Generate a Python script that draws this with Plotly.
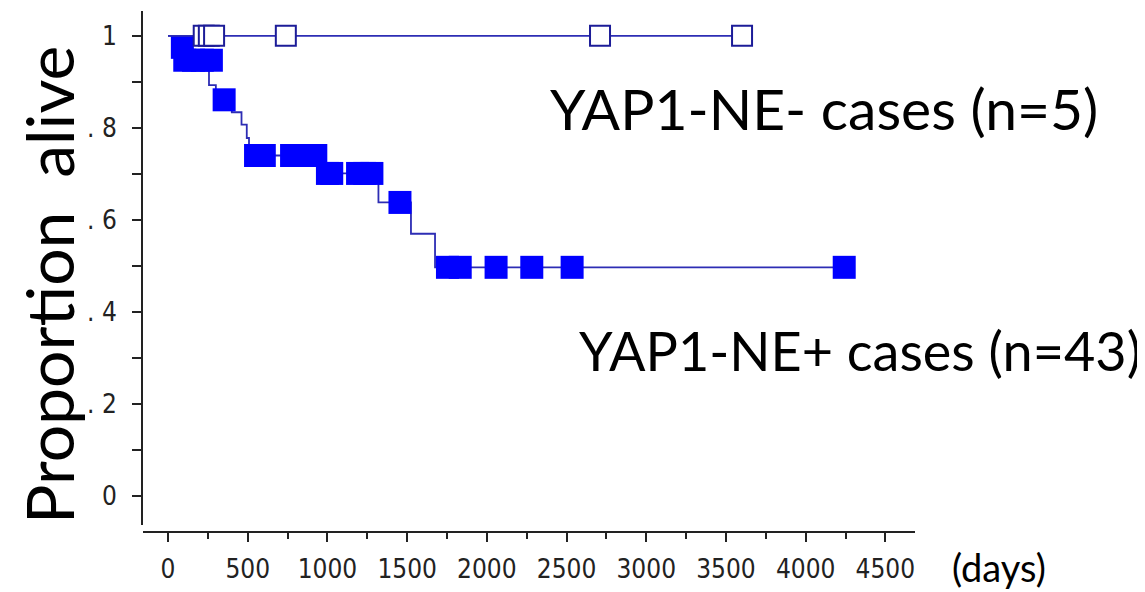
import plotly.graph_objects as go

# ---- data ----
pos_step_days = [0, 40, 100, 257, 300, 400, 461, 494, 508, 960, 1320, 1524, 1675, 4242]
pos_step_surv = [1.0, 0.975, 0.947, 0.893, 0.861, 0.834, 0.807, 0.778, 0.740, 0.701, 0.638, 0.570, 0.497, 0.497]

pos_cens_days = [90, 105, 160, 215, 272, 352, 549, 604, 775, 851, 927, 1000, 1027,
                 1189, 1234, 1279, 1455, 1753, 1833, 2058, 2282, 2535, 4242]
pos_cens_surv = [0.975, 0.947, 0.947, 0.947, 0.947, 0.861, 0.740, 0.740, 0.740, 0.740, 0.740, 0.701, 0.701,
                 0.701, 0.701, 0.701, 0.638, 0.497, 0.497, 0.497, 0.497, 0.497, 0.497]

neg_step_days = [0, 3601]
neg_step_surv = [1.0, 1.0]
neg_cens_days = [224, 256, 289, 739, 2710, 3601]
neg_cens_surv = [1.0, 1.0, 1.0, 1.0, 1.0, 1.0]

x_tickvals = [0, 500, 1000, 1500, 2000, 2500, 3000, 3500, 4000, 4500]
x_ticktext = ["0", "500", "1000", "1500", "2000", "2500", "3000", "3500", "4000", "4500"]
y_tickvals = [0, 0.2, 0.4, 0.6, 0.8, 1.0]
y_ticktext = ["0", ". 2", ". 4", ". 6", ". 8", "1"]

label_neg = "YAP1-NE- cases (n=5)"
label_pos = "YAP1-NE+ cases (n=43)"
y_title = "Proportion  alive"
x_title = "(days)"

LINE_COL = "#2d2db4"
FILL_COL = "#0000ff"
OPEN_COL = "#1c1c98"
TICK_FONT = dict(family="Liberation Sans Narrow, DejaVu Sans Condensed, sans-serif", size=26, color="#222222")
TEXT_FONT = "Lato, Calibri, sans-serif"

# page body has an 8px offset; plot area aimed at screen px x 143..915, y 11..532
OFF = 8
L, R, T, B = 143, 915, 11, 532
PW, PH = R - L, B - T

fig = go.Figure()
fig.add_trace(go.Scatter(x=pos_step_days, y=pos_step_surv, mode="lines",
                         line=dict(color=LINE_COL, width=1.8, shape="hv"),
                         hoverinfo="skip", showlegend=False))
fig.add_trace(go.Scatter(x=pos_cens_days, y=pos_cens_surv, mode="markers",
                         marker=dict(symbol="square", size=23, color=FILL_COL, line=dict(width=0)),
                         showlegend=False))
fig.add_trace(go.Scatter(x=neg_step_days, y=neg_step_surv, mode="lines",
                         line=dict(color=LINE_COL, width=1.8, shape="hv"),
                         hoverinfo="skip", showlegend=False))
fig.add_trace(go.Scatter(x=neg_cens_days, y=neg_cens_surv, mode="markers",
                         marker=dict(symbol="square", size=20, color="white",
                                     line=dict(width=2, color=OPEN_COL)),
                         showlegend=False))

def px(xp):
    return (xp - L) / PW

def py(yp):
    return (B - yp) / PH

fig.update_layout(
    width=1145, height=592,
    margin=dict(l=L - OFF, r=1145 - R + OFF, t=T - OFF, b=592 - B + OFF, autoexpand=False),
    paper_bgcolor="white", plot_bgcolor="white",
    xaxis=dict(range=[-157, 4686], domain=[0, 1], anchor="free", position=0, automargin=False,
               showgrid=False, zeroline=False, showline=True, linecolor="#222222", linewidth=2,
               tickmode="array", tickvals=x_tickvals, ticktext=x_ticktext,
               ticks="outside", ticklen=9, tickwidth=2, tickcolor="#222222",
               minor=dict(ticks="outside", dtick=250, ticklen=6, tickwidth=2, tickcolor="#222222"),
               tickfont=TICK_FONT, ticklabelstandoff=5),
    yaxis=dict(range=[-0.063, 1.054], domain=[0.0134, 1], automargin=False,
               showgrid=False, zeroline=False, showline=True, linecolor="#222222", linewidth=2,
               tickmode="array", tickvals=y_tickvals, ticktext=y_ticktext,
               ticks="outside", ticklen=9, tickwidth=2, tickcolor="#222222",
               minor=dict(ticks="outside", dtick=0.1, ticklen=9, tickwidth=2, tickcolor="#222222"),
               tickfont=TICK_FONT, ticklabelstandoff=10),
    annotations=[
        dict(text=label_neg, xref="paper", yref="paper", x=px(548), y=py(108),
             xanchor="left", yanchor="middle", showarrow=False,
             font=dict(family=TEXT_FONT, size=57, color="black")),
        dict(text=label_pos, xref="paper", yref="paper", x=px(577), y=py(350),
             xanchor="left", yanchor="middle", showarrow=False,
             font=dict(family=TEXT_FONT, size=54, color="black")),
        dict(text=x_title, xref="paper", yref="paper", x=px(950), y=py(567),
             xanchor="left", yanchor="middle", showarrow=False,
             font=dict(family=TEXT_FONT, size=38, color="black")),
        dict(text=y_title, xref="paper", yref="paper", x=px(49), y=py(285),
             xanchor="center", yanchor="middle", textangle=-90, showarrow=False,
             font=dict(family=TEXT_FONT, size=66, color="black")),
    ],
)

fig.write_html("out.html")
